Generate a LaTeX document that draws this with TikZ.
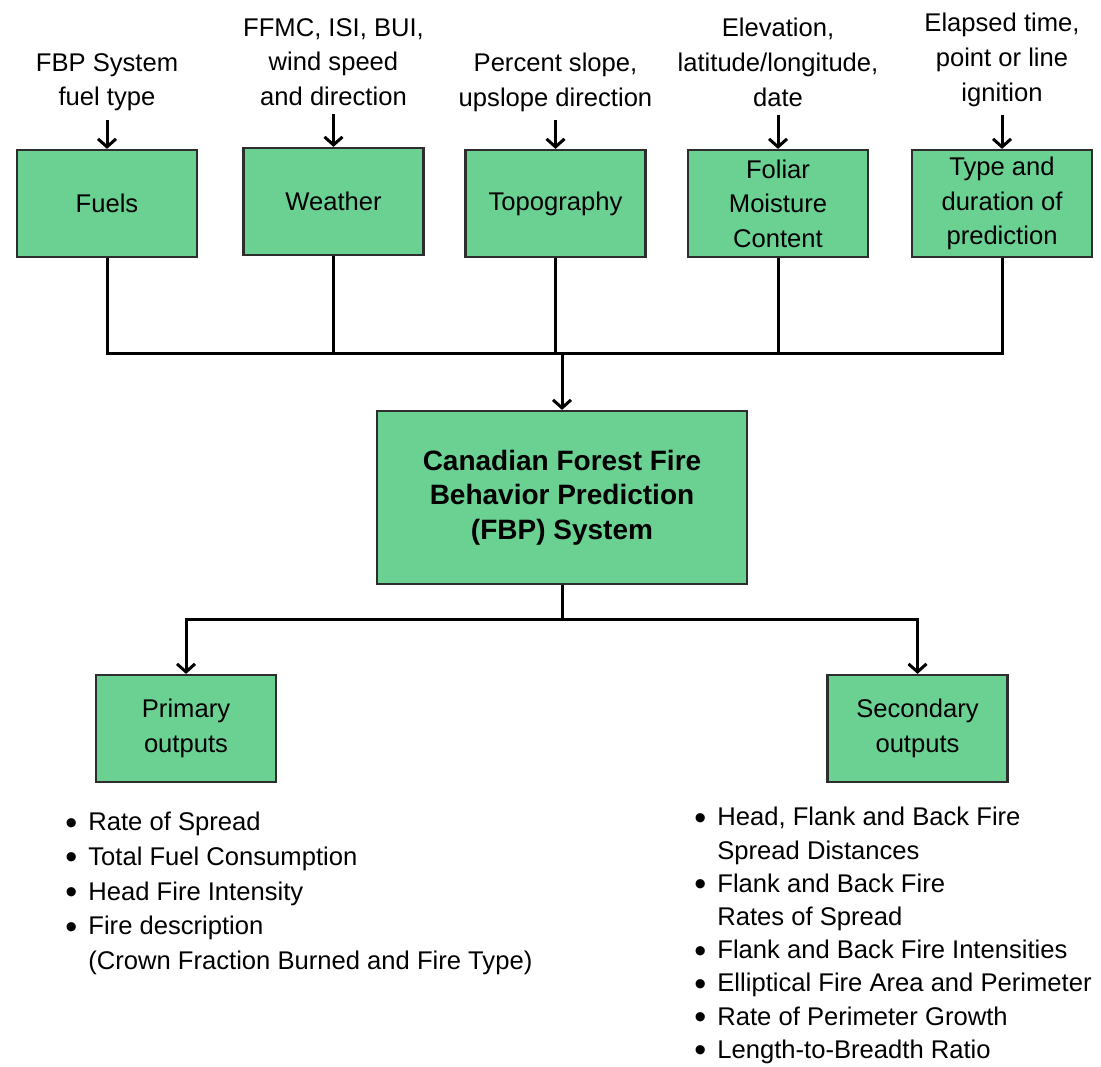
\documentclass[tikz,border=0pt]{standalone}
\usepackage{fontspec}
\setmainfont{Liberation Sans}
\usepackage{xcolor}
\definecolor{fbpgreen}{RGB}{106,209,146}
\definecolor{fbpedge}{RGB}{45,45,45}
\usetikzlibrary{arrows.meta}
\newcommand{\bpt}{\makebox[11.5pt][l]{\raisebox{-0.25ex}{\fontsize{17}{17}\selectfont\textbullet}}}

\begin{document}
\begin{tikzpicture}[x=0.5pt, y=-0.5pt,
  font=\fontsize{12.8}{17.3}\selectfont,
  box/.style={draw=fbpedge, fill=fbpgreen, line width=1.1pt, minimum width=90pt,
    minimum height=53.5pt, align=center, inner sep=0pt},
  inlabel/.style={anchor=north, align=center, inner sep=0pt},
  wire/.style={line width=1.5pt},
  arrow/.style={wire, -{Straight Barb[length=4pt,width=9pt]}},
  feed/.style={arrow, shorten <=4pt},
  outlist/.style={anchor=north west, align=left, inner sep=0pt}]
  \useasboundingbox (0,0) rectangle (1101,1066);

  % Inputs
  \node[box] (fuels) at (107,203.5) {Fuels};
  \node[box] (weather) at (333.5,201.5) {Weather};
  \node[box] (topo) at (555.5,203.5) {Topography};
  \node[box] (foliar) at (778,203.5) {Foliar\\Moisture\\Content};
  \node[box] (pred) at (1002,203.5) {Type and\\duration of\\prediction};

  \node[inlabel] (fuelsin) at (107,53) {FBP System\\fuel type};
  \node[inlabel] (weatherin) at (333.5,18) {FFMC, ISI, BUI,\\wind speed\\and direction};
  \node[inlabel] (topoin) at (555.5,53) {Percent slope,\\upslope direction};
  \node[inlabel] (foliarin) at (778,18) {Elevation,\\latitude/longitude,\\date};
  \node[inlabel] (predin) at (1002,13) {Elapsed time,\\point or line\\ignition};

  \foreach \n in {fuels,weather,topo,foliar,pred}
    \draw[feed] (\n in) -- (\n);

  % Collecting line
  \coordinate (bus) at (562,353);
  \draw[wire] (fuels) |- (pred |- bus) -- (pred);
  \foreach \n in {weather,topo,foliar}
    \draw[wire] (\n) -- (\n |- bus);

  % FBP System
  \node[box, minimum width=185pt, minimum height=86.5pt,
    font=\fontsize{14}{17.3}\selectfont\bfseries] (fbp) at (562,497.5)
    {Canadian Forest Fire\\Behavior Prediction\\(FBP) System};
  \draw[arrow] (bus) -- (fbp);

  % Outputs
  \node[box] (prim) at (186,728.5) {Primary\\outputs};
  \node[box] (sec) at (917.5,728.5) {Secondary\\outputs};
  \coordinate (split) at (562,619);
  \draw[wire] (fbp) -- (split);
  \draw[arrow] (split) -| (prim);
  \draw[arrow] (split) -| (sec);

  \node[outlist] (primlist) at (65,812) {\bpt Rate of Spread\\
    \bpt Total Fuel Consumption\\
    \bpt Head Fire Intensity\\
    \bpt Fire description\\
    \hspace*{11.5pt}(Crown Fraction Burned and Fire Type)};
  \node[outlist, font=\fontsize{12.8}{16.6}\selectfont] (seclist) at (694,807)
    {\bpt Head, Flank and Back Fire\\
    \hspace*{11.5pt}Spread Distances\\
    \bpt Flank and Back Fire\\
    \hspace*{11.5pt}Rates of Spread\\
    \bpt Flank and Back Fire Intensities\\
    \bpt Elliptical Fire Area and Perimeter\\
    \bpt Rate of Perimeter Growth\\
    \bpt Length-to-Breadth Ratio};
\end{tikzpicture}
\end{document}
